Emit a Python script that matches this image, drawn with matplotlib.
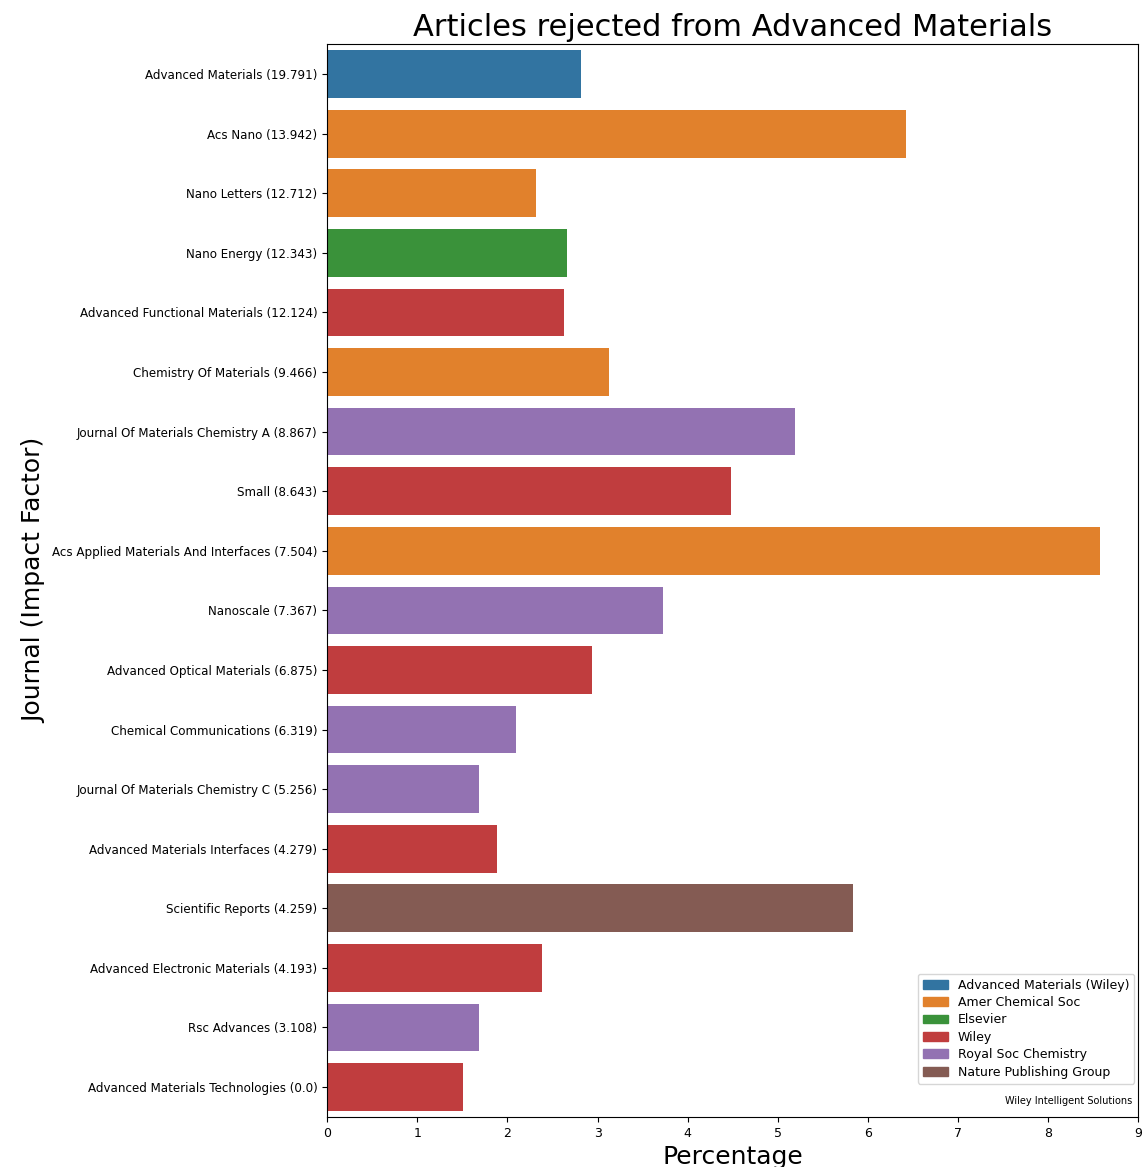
import matplotlib
matplotlib.use("Agg")
import matplotlib.pyplot as plt
from matplotlib.patches import Patch

journals = [
    "Advanced Materials (19.791)",
    "Acs Nano (13.942)",
    "Nano Letters (12.712)",
    "Nano Energy (12.343)",
    "Advanced Functional Materials (12.124)",
    "Chemistry Of Materials (9.466)",
    "Journal Of Materials Chemistry A (8.867)",
    "Small (8.643)",
    "Acs Applied Materials And Interfaces (7.504)",
    "Nanoscale (7.367)",
    "Advanced Optical Materials (6.875)",
    "Chemical Communications (6.319)",
    "Journal Of Materials Chemistry C (5.256)",
    "Advanced Materials Interfaces (4.279)",
    "Scientific Reports (4.259)",
    "Advanced Electronic Materials (4.193)",
    "Rsc Advances (3.108)",
    "Advanced Materials Technologies (0.0)",
]
percentages = [2.82, 6.42, 2.32, 2.66, 2.63, 3.13, 5.19, 4.48, 8.58,
               3.73, 2.94, 2.10, 1.69, 1.88, 5.83, 2.38, 1.69, 1.51]
publishers = [
    "Advanced Materials (Wiley)", "Amer Chemical Soc", "Amer Chemical Soc",
    "Elsevier", "Wiley", "Amer Chemical Soc", "Royal Soc Chemistry", "Wiley",
    "Amer Chemical Soc", "Royal Soc Chemistry", "Wiley", "Royal Soc Chemistry",
    "Royal Soc Chemistry", "Wiley", "Nature Publishing Group", "Wiley",
    "Royal Soc Chemistry", "Wiley",
]
publisher_order = ["Advanced Materials (Wiley)", "Amer Chemical Soc", "Elsevier",
                   "Wiley", "Royal Soc Chemistry", "Nature Publishing Group"]
publisher_colors = ["#3274a1", "#e1812c", "#3a923a", "#c03d3e", "#9372b2", "#845b53"]

color_of = dict(zip(publisher_order, publisher_colors))

fig, ax = plt.subplots(figsize=(11.44, 11.67), dpi=100)
fig.subplots_adjust(left=0.286, right=0.995, top=0.962, bottom=0.043)

ypos = list(range(len(journals)))
ax.barh(ypos, percentages, height=0.8,
        color=[color_of[p] for p in publishers])
ax.set_yticks(ypos)
ax.set_yticklabels(journals, fontsize=8.6)
ax.set_ylim(len(journals) - 0.5, -0.5)
ax.set_xlim(0, 9)
ax.tick_params(axis="x", labelsize=9)

ax.set_title("Articles rejected from Advanced Materials", fontsize=22)
ax.set_xlabel("Percentage", fontsize=18)
ax.set_ylabel("Journal (Impact Factor)", fontsize=18)

handles = [Patch(color=c, label=p) for p, c in zip(publisher_order, publisher_colors)]
ax.legend(handles=handles, loc="lower right", bbox_to_anchor=(0.995, 0.031),
          borderaxespad=0.0, fontsize=9, labelspacing=0.35)
ax.text(0.993, 0.01, "Wiley Intelligent Solutions", transform=ax.transAxes,
        ha="right", va="bottom", fontsize=7)

fig.savefig("out.png")
